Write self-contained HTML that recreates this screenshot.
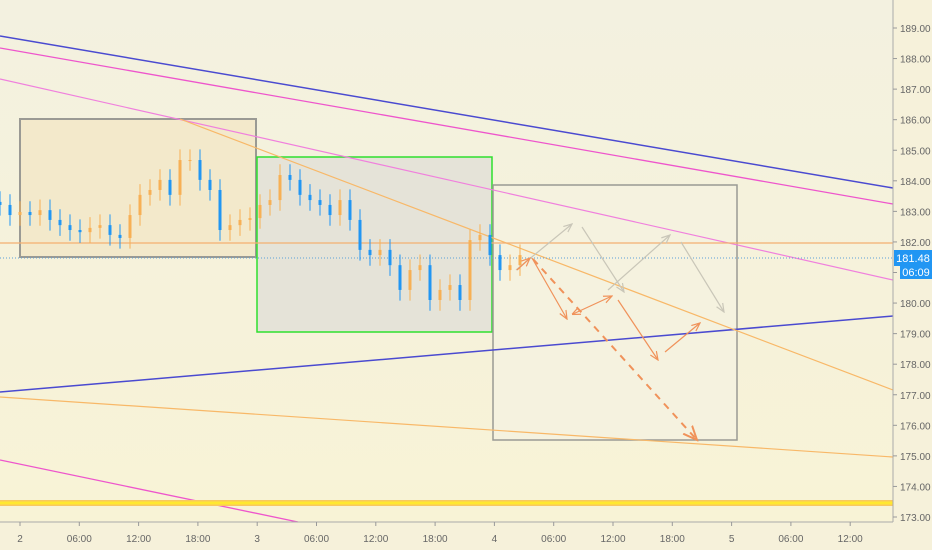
<!DOCTYPE html>
<html><head><meta charset="utf-8"><style>
body{margin:0;width:932px;height:550px;overflow:hidden;background:#f6f1da;font-family:"Liberation Sans",sans-serif}
svg{display:block}
</style></head><body>
<svg id="c" width="932" height="550">
<defs>
<linearGradient id="bg" x1="0" y1="0" x2="0" y2="1"><stop offset="0" stop-color="#f3f1e0"/><stop offset="1" stop-color="#f8f3d6"/></linearGradient>
<marker id="ag" markerWidth="8" markerHeight="8" refX="7" refY="4" orient="auto"><path d="M0,1 L7,4 L0,7" fill="none" stroke="#c9c6b8" stroke-width="1"/></marker>
<marker id="ao" markerWidth="8" markerHeight="8" refX="7" refY="4" orient="auto"><path d="M0,1 L7,4 L0,7" fill="none" stroke="#f0925a" stroke-width="1"/></marker>
<marker id="aos" markerWidth="8" markerHeight="8" refX="1" refY="4" orient="auto"><path d="M7,1 L0,4 L7,7" fill="none" stroke="#f0925a" stroke-width="1"/></marker>
</defs>
<rect x="0" y="0" width="893" height="522" fill="url(#bg)"/>
<rect x="20" y="119" width="236" height="138" fill="#f3e9cb" stroke="#9a9a94" stroke-width="2"/>
<rect x="257" y="157" width="235" height="175" fill="#e5e3d8" stroke="#2ee02e" stroke-width="1.5"/>
<rect x="493" y="185" width="244" height="255" fill="#f5f2df" stroke="#9a9a94" stroke-width="1.5"/>
<g id="lines"></g>
<g id="candles"></g>
<g id="arrows"></g>
<line x1="893" y1="0" x2="893" y2="522" stroke="#aaa"/>
<line x1="0" y1="522" x2="893" y2="522" stroke="#aaa"/>
<g id="yax"></g><g id="xax"></g>
<rect x="894" y="250" width="38" height="16" fill="#2196f3"/>
<text x="913" y="262" fill="#fff" font-size="11" text-anchor="middle">181.48</text>
<rect x="900" y="265" width="32" height="14" fill="#2196f3"/>
<text x="916" y="276" fill="#fff" font-size="11" text-anchor="middle">06:09</text>
</svg>
<script>
const priceTicks=[189,188,187,186,185,184,183,182,181,180,179,178,177,176,175,174,173];
const timeLabels=["2","06:00","12:00","18:00","3","06:00","12:00","18:00","4","06:00","12:00","18:00","5","06:00","12:00"];
const closes=[183.21,182.88,182.98,182.88,183.04,182.72,182.55,182.39,182.32,182.46,182.55,182.23,182.13,182.88,183.54,183.70,184.03,183.54,184.68,184.68,184.03,183.70,182.39,182.55,182.72,182.78,183.21,183.37,184.19,184.03,183.54,183.37,183.21,182.88,183.37,182.72,181.74,181.57,181.74,181.24,180.43,181.08,181.24,180.10,180.43,180.59,180.10,182.06,182.23,181.57,181.08,181.24,181.57];
const NS="http://www.w3.org/2000/svg";
const y=p=>28+(189-p)*30.5625;
const xT=i=>20+i*59.3;
const xC=i=>i*10;
function mk(t,a,parent){const e=document.createElementNS(NS,t);for(const k in a)e.setAttribute(k,a[k]);parent.appendChild(e);return e;}
const yax=document.getElementById('yax');
priceTicks.forEach(p=>{
 const l=mk('line',{x1:893,x2:897,y1:y(p),y2:y(p),stroke:'#999'},yax);
 
 
 const t=mk('text',{x:900,y:y(p)+4,'font-size':10,fill:'#666'},yax);
 t.textContent=p.toFixed(2);
 
 
});
const xax=document.getElementById('xax');
timeLabels.forEach((s,i)=>{
 const l=mk('line',{x1:xT(i),x2:xT(i),y1:522,y2:526,stroke:'#999'},xax);
 
 
 const t=mk('text',{x:xT(i),y:542,'font-size':10,fill:'#666','text-anchor':'middle'},xax);
 t.textContent=s;
 
 
});
const L=document.getElementById('lines');
[[0,36,893,188,'#4a4ad0',1.5,'resistance-trendline'],[0,48,893,204,'#ee55cc',1.3,'upper-channel-line'],[0,79,893,280,'#f080dd',1.2,'mid-channel-line'],
 [0,392,893,316,'#4a4ad0',1.5,'support-trendline'],[180,119,893,390,'#f8b868',1.2,'descending-trendline'],[0,397,893,457,'#f8b868',1.2,'lower-trendline'],
 [0,460,298,522,'#ee55cc',1.3,'lower-channel-line'],[0,243,893,243,'#f4b070',1.2,'horizontal-level']].forEach(a=>{
 const l=mk('line',{x1:a[0],y1:a[1],x2:a[2],y2:a[3],stroke:a[4],'stroke-width':a[5]},L);
 
 
});
const yb=mk('line',{x1:0,y1:503,x2:893,y2:503,stroke:'#f8c860','stroke-width':6},L);


const yl=mk('line',{x1:0,y1:503,x2:893,y2:503,stroke:'#ffe830','stroke-width':3},L);


const dl=mk('line',{x1:0,y1:258,x2:893,y2:258,stroke:'#5aa0d8','stroke-width':1,'stroke-dasharray':'1 2'},L);


const C=document.getElementById('candles');
closes.forEach((c,i)=>{
 const o=i?closes[i-1]:c+0.1;
 const up=c>=o, col=up?'#f7b055':'#2196f3';
 const hi=Math.max(o,c)+0.35, lo=Math.min(o,c)-0.35;
 const w=mk('line',{x1:xC(i),x2:xC(i),y1:y(hi),y2:y(lo),stroke:col,'stroke-width':1},C);
 
 
 const b=mk('rect',{x:xC(i)-1.5,y:y(Math.max(o,c)),width:3,height:Math.max(1,Math.abs(y(o)-y(c))),fill:col},C);
 
 
});
const A=document.getElementById('arrows');
[[516,270,572,224,'g',0],[582,227,624,292,'g',0],[608,290,670,235,'g',0],[681,242,724,312,'g',0],
 [517,270,530,258,'o',0],[532,258,567,319,'o',0],[533,259,697,440,'o',1],[573,314,612,296,'o',2],[618,300,658,360,'o',0],[665,352,700,323,'o',0]].forEach(a=>{
 const at={x1:a[0],y1:a[1],x2:a[2],y2:a[3],stroke:a[4]=='g'?'#c9c6b8':'#f0925a','stroke-width':a[5]==1?2:1.2,'marker-end':a[4]=='g'?'url(#ag)':'url(#ao)'};
 if(a[5]==1)at['stroke-dasharray']='7 6';
 if(a[5]==2)at['marker-start']='url(#aos)';
 const l=mk('line',at,A);
 
 
});
</script>
</body></html>
